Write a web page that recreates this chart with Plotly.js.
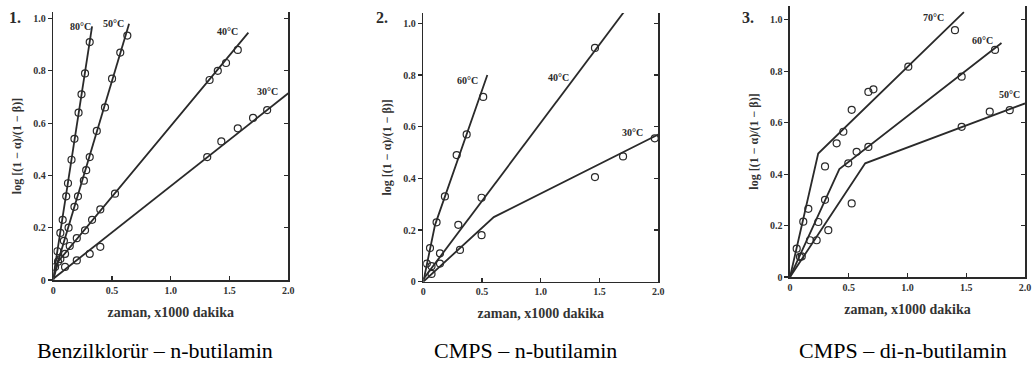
<!DOCTYPE html>
<html>
<head>
<meta charset="utf-8">
<script src="https://cdn.plot.ly/plotly-3.0.1.min.js"></script>
<style>html,body{margin:0;padding:0;background:#fff;}#chart{width:1035px;height:367px;}</style>
</head>
<body>
<div id="chart"></div>
<script>
// ---------- data (x: zaman, x1000 dakika ; y: log[(1-α)/(1-β)]) ----------
// Panel 1: Benzilklorür – n-butilamin
var p1_80_x = [0.015, 0.035, 0.06, 0.08, 0.11, 0.125, 0.155, 0.18, 0.215, 0.24, 0.27, 0.31];
var p1_80_y = [0.05, 0.11, 0.18, 0.23, 0.32, 0.37, 0.46, 0.54, 0.64, 0.71, 0.79, 0.91];
var p1_80_lx = [0, 0.33];
var p1_80_ly = [0.01, 0.97];

var p1_50_x = [0.04, 0.09, 0.13, 0.18, 0.21, 0.26, 0.28, 0.31, 0.37, 0.44, 0.50, 0.57, 0.63];
var p1_50_y = [0.07, 0.15, 0.20, 0.28, 0.32, 0.38, 0.42, 0.47, 0.57, 0.66, 0.77, 0.87, 0.935];
var p1_50_lx = [0, 0.645];
var p1_50_ly = [0.01, 0.98];

var p1_40_x = [0.06, 0.10, 0.14, 0.20, 0.27, 0.33, 0.40, 0.525, 1.33, 1.40, 1.47, 1.57];
var p1_40_y = [0.08, 0.10, 0.13, 0.16, 0.19, 0.23, 0.27, 0.33, 0.765, 0.80, 0.83, 0.88];
var p1_40_lx = [0, 0.04, 1.66];
var p1_40_ly = [0, 0.07, 0.946];

var p1_30_x = [0.10, 0.20, 0.31, 0.40, 1.31, 1.43, 1.57, 1.70, 1.82];
var p1_30_y = [0.05, 0.075, 0.10, 0.127, 0.47, 0.53, 0.58, 0.62, 0.65];
var p1_30_lx = [0, 2.0];
var p1_30_ly = [0.005, 0.714];

// Panel 2: CMPS – n-butilamin
var p2_60_x = [0.03, 0.057, 0.113, 0.184, 0.284, 0.369, 0.51];
var p2_60_y = [0.07, 0.13, 0.23, 0.33, 0.49, 0.57, 0.715];
var p2_60_lx = [0, 0.10, 0.545];
var p2_60_ly = [0, 0.22, 0.80];

var p2_40_x = [0.07, 0.142, 0.298, 0.496, 1.461];
var p2_40_y = [0.06, 0.11, 0.22, 0.325, 0.905];
var p2_40_lx = [0, 1.8];
var p2_40_ly = [0.01, 1.10];

var p2_30_x = [0.07, 0.142, 0.312, 0.496, 1.461, 1.70, 1.97];
var p2_30_y = [0.03, 0.07, 0.123, 0.18, 0.405, 0.485, 0.555];
var p2_30_lx = [0, 0.6, 2.0];
var p2_30_ly = [0, 0.25, 0.57];

// Panel 3: CMPS – di-n-butilamin
var p3_70_x = [0.057, 0.113, 0.156, 0.298, 0.397, 0.454, 0.525, 0.667, 0.71, 1.007, 1.404];
var p3_70_y = [0.11, 0.215, 0.265, 0.43, 0.52, 0.565, 0.65, 0.72, 0.73, 0.818, 0.96];
var p3_70_lx = [0, 0.24, 1.48];
var p3_70_ly = [0, 0.48, 1.03];

var p3_60_x = [0.085, 0.17, 0.241, 0.298, 0.496, 0.567, 0.667, 1.461, 1.745];
var p3_60_y = [0.078, 0.143, 0.214, 0.30, 0.442, 0.487, 0.506, 0.779, 0.883];
var p3_60_lx = [0, 0.42, 1.80];
var p3_60_ly = [0, 0.42, 0.91];

var p3_50_x = [0.10, 0.227, 0.326, 0.525, 1.461, 1.70, 1.87];
var p3_50_y = [0.08, 0.143, 0.182, 0.286, 0.584, 0.643, 0.649];
var p3_50_lx = [0, 0.64, 2.0];
var p3_50_ly = [0, 0.442, 0.675];

var xTickVals = [0, 0.5, 1.0, 1.5, 2.0];
var xTickText = ['0', '0.5', '1.0', '1.5', '2.0'];
var yTickVals = [0, 0.2, 0.4, 0.6, 0.8, 1.0];
var yTickText = ['0', '0.2', '0.4', '0.6', '0.8', '1.0'];

var panelLabels = ['1.', '2.', '3.'];
var captions = ['Benzilklorür – n-butilamin', 'CMPS – n-butilamin', 'CMPS – di-n-butilamin'];
var xTitle = 'zaman, x1000 dakika';
var yTitle = 'log [(1 − α)/(1 − β)]';

// ---------- styling ----------
var INK = '#2a2a2a';
var SERIF = '"Liberation Serif", "DejaVu Serif", serif';

function pts(x, y, xa, ya) {
  return {x: x, y: y, xaxis: xa, yaxis: ya, type: 'scatter', mode: 'markers',
    marker: {symbol: 'circle-open', size: 7, color: INK, line: {width: 1.2, color: INK}},
    hoverinfo: 'skip', showlegend: false, cliponaxis: true};
}
function ln(x, y, xa, ya) {
  return {x: x, y: y, xaxis: xa, yaxis: ya, type: 'scatter', mode: 'lines',
    line: {color: INK, width: 1.8}, hoverinfo: 'skip', showlegend: false};
}

var traces = [
  ln(p1_80_lx, p1_80_ly, 'x', 'y'), pts(p1_80_x, p1_80_y, 'x', 'y'),
  ln(p1_50_lx, p1_50_ly, 'x', 'y'), pts(p1_50_x, p1_50_y, 'x', 'y'),
  ln(p1_40_lx, p1_40_ly, 'x', 'y'), pts(p1_40_x, p1_40_y, 'x', 'y'),
  ln(p1_30_lx, p1_30_ly, 'x', 'y'), pts(p1_30_x, p1_30_y, 'x', 'y'),
  ln(p2_60_lx, p2_60_ly, 'x2', 'y2'), pts(p2_60_x, p2_60_y, 'x2', 'y2'),
  ln(p2_40_lx, p2_40_ly, 'x2', 'y2'), pts(p2_40_x, p2_40_y, 'x2', 'y2'),
  ln(p2_30_lx, p2_30_ly, 'x2', 'y2'), pts(p2_30_x, p2_30_y, 'x2', 'y2'),
  ln(p3_70_lx, p3_70_ly, 'x3', 'y3'), pts(p3_70_x, p3_70_y, 'x3', 'y3'),
  ln(p3_60_lx, p3_60_ly, 'x3', 'y3'), pts(p3_60_x, p3_60_y, 'x3', 'y3'),
  ln(p3_50_lx, p3_50_ly, 'x3', 'y3'), pts(p3_50_x, p3_50_y, 'x3', 'y3'),
  // empty traces so that the right-hand frame axes are drawn
  {x: [], y: [], xaxis: 'x', yaxis: 'y4', type: 'scatter', showlegend: false, hoverinfo: 'skip'},
  {x: [], y: [], xaxis: 'x2', yaxis: 'y5', type: 'scatter', showlegend: false, hoverinfo: 'skip'},
  {x: [], y: [], xaxis: 'x3', yaxis: 'y6', type: 'scatter', showlegend: false, hoverinfo: 'skip'}
];

var W = 1035, H = 367;
function fx(px) { return px / W; }
function fy(py) { return 1 - py / H; }

var tickFont = {family: SERIF, size: 10, color: '#333', weight: 'bold'};

function xAxis(d0, d1, anchor) {
  return {domain: [fx(d0), fx(d1)], range: [0, 2.0], anchor: anchor,
    showline: true, linecolor: INK, linewidth: 1.6, mirror: false,
    ticks: 'inside', ticklen: 4, tickwidth: 1.2, tickcolor: INK,
    tickvals: xTickVals, ticktext: xTickText, tickfont: tickFont,
    showgrid: false, zeroline: false, fixedrange: true,
    title: {text: xTitle, font: {family: SERIF, size: 14, color: '#333', weight: 'bold'}, standoff: 12}};
}
function yAxis(d0, d1, top, anchor) {
  return {domain: [fy(d0), fy(d1)], range: [0, top], anchor: anchor,
    showline: true, linecolor: INK, linewidth: 1.6,
    ticks: 'outside', ticklen: 4, tickwidth: 1.2, tickcolor: INK,
    tickvals: yTickVals, ticktext: yTickText, tickfont: tickFont,
    showgrid: false, zeroline: false, fixedrange: true,
    title: {text: yTitle, font: {family: SERIF, size: 12, color: '#333', weight: 'bold'}, standoff: 9}};
}
function yRight(top, over, anchor) {
  return {overlaying: over, side: 'right', anchor: anchor, range: [0, top],
    showline: true, linecolor: INK, linewidth: 1.6,
    ticks: 'inside', ticklen: 4, tickwidth: 1.2, tickcolor: INK,
    tickvals: yTickVals, showticklabels: false,
    showgrid: false, zeroline: false, fixedrange: true};
}

function note(text, x, y, xref, yref, font) {
  return {text: text, x: x, y: y, xref: xref, yref: yref, showarrow: false,
    xanchor: 'center', yanchor: 'middle', font: font};
}

var tempFont = {family: SERIF, size: 10, color: INK, weight: 'bold'};
var panelFont = {family: SERIF, size: 16, color: INK, weight: 'bold'};
var capFont = {family: SERIF, size: 22, color: '#000'};
var annotations = [
  note('80°C', 0.23, 0.97, 'x', 'y', tempFont),
  note('50°C', 0.51, 0.98, 'x', 'y', tempFont),
  note('40°C', 1.48, 0.95, 'x', 'y', tempFont),
  note('30°C', 1.82, 0.72, 'x', 'y', tempFont),
  note('60°C', 0.38, 0.78, 'x2', 'y2', tempFont),
  note('40°C', 1.15, 0.79, 'x2', 'y2', tempFont),
  note('30°C', 1.78, 0.576, 'x2', 'y2', tempFont),
  note('70°C', 1.22, 1.01, 'x3', 'y3', tempFont),
  note('60°C', 1.64, 0.92, 'x3', 'y3', tempFont),
  note('50°C', 1.87, 0.71, 'x3', 'y3', tempFont),
  note(panelLabels[0], fx(15), fy(17), 'paper', 'paper', panelFont),
  note(panelLabels[1], fx(382), fy(17), 'paper', 'paper', panelFont),
  note(panelLabels[2], fx(748), fy(17), 'paper', 'paper', panelFont),
  note(captions[0], fx(155), fy(350), 'paper', 'paper', capFont),
  note(captions[1], fx(525), fy(350), 'paper', 'paper', capFont),
  note(captions[2], fx(903), fy(350), 'paper', 'paper', capFont)
];

var layout = {
  width: W, height: H,
  margin: {l: 0, r: 0, t: 0, b: 0, pad: 0},
  paper_bgcolor: '#fff', plot_bgcolor: '#fff',
  showlegend: false,
  xaxis: xAxis(53.3, 288.3, 'y'),
  yaxis: yAxis(280, 12, 1.025, 'x'),
  xaxis2: xAxis(423.3, 658.3, 'y2'),
  yaxis2: yAxis(281.7, 13, 1.04, 'x2'),
  xaxis3: xAxis(790, 1025, 'y3'),
  yaxis3: yAxis(277, 6, 1.054, 'x3'),
  yaxis4: yRight(1.025, 'y', 'x'),
  yaxis5: yRight(1.04, 'y2', 'x2'),
  yaxis6: yRight(1.054, 'y3', 'x3'),
  annotations: annotations
};

Plotly.newPlot('chart', traces, layout, {displayModeBar: false, staticPlot: true});
</script>
</body>
</html>
